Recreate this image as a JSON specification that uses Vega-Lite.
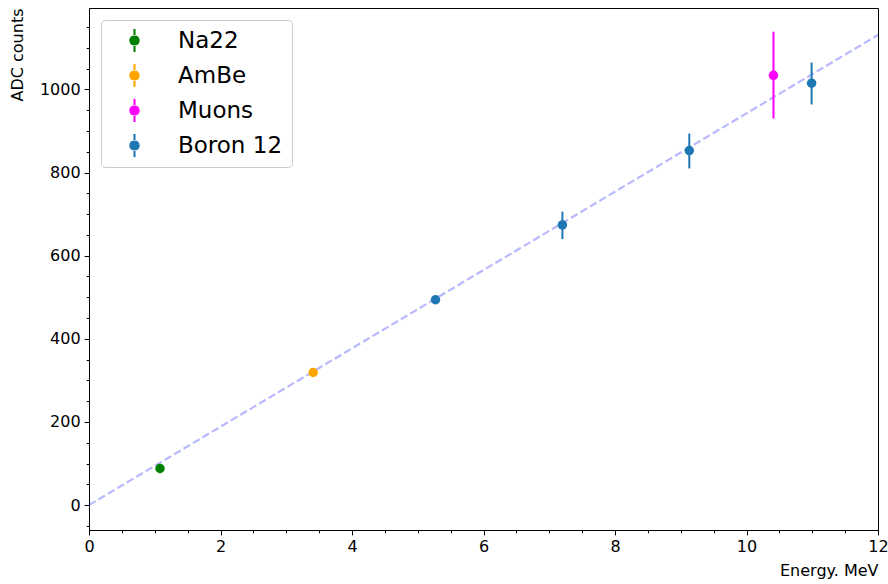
{
  "$schema": "https://vega.github.io/schema/vega-lite/v6.json",
  "width": 789,
  "height": 522,
  "autosize": "none",
  "padding": {"left": 89, "top": 8, "right": 10, "bottom": 54},
  "background": "white",
  "config": {
    "view": {"stroke": "black", "strokeWidth": 1},
    "font": "DejaVu Sans",
    "axis": {
      "grid": false,
      "domainColor": "black",
      "domainWidth": 1,
      "tickColor": "black",
      "tickWidth": 1,
      "labelColor": "black",
      "titleColor": "black",
      "labelFontSize": 16,
      "titleFontSize": 16,
      "titleFontWeight": "normal",
      "labelFont": "DejaVu Sans",
      "titleFont": "DejaVu Sans",
      "labelOverlap": false,
      "labelFlush": false
    },
    "legend": {
      "labelFont": "DejaVu Sans",
      "labelFontSize": 23,
      "labelColor": "black"
    }
  },
  "datasets": {
    "pts": [
      {"source": "Na22", "E": 1.08, "adc": 88, "lo": 84, "hi": 92},
      {"source": "AmBe", "E": 3.41, "adc": 319, "lo": 314, "hi": 324},
      {"source": "Boron 12", "E": 5.27, "adc": 494, "lo": 487, "hi": 501},
      {"source": "Boron 12", "E": 7.2, "adc": 674, "lo": 640, "hi": 706},
      {"source": "Boron 12", "E": 9.13, "adc": 853, "lo": 810, "hi": 894},
      {"source": "Muons", "E": 10.41, "adc": 1034, "lo": 930, "hi": 1139},
      {"source": "Boron 12", "E": 10.99, "adc": 1015, "lo": 964, "hi": 1065}
    ],
    "fit": [
      {"E": 0, "adc": 0},
      {"E": 12, "adc": 1131}
    ]
  },
  "encoding": {
    "x": {
      "field": "E",
      "type": "quantitative",
      "scale": {"domain": [0, 12], "nice": false, "zero": false},
      "axis": {
        "title": "Energy. MeV",
        "titleAnchor": "end",
        "titlePadding": 8,
        "values": [0, 0.5, 1, 1.5, 2, 2.5, 3, 3.5, 4, 4.5, 5, 5.5, 6, 6.5, 7, 7.5, 8, 8.5, 9, 9.5, 10, 10.5, 11, 11.5, 12],
        "labelExpr": "datum.value % 2 === 0 ? '' + datum.value : ''",
        "tickSize": {"condition": {"test": "datum.value % 2 !== 0", "value": 2.8}, "value": 4.9},
        "labelPadding": 4
      }
    },
    "y": {
      "field": "adc",
      "type": "quantitative",
      "scale": {"domain": [-60, 1196], "nice": false, "zero": false},
      "axis": {
        "title": "ADC counts",
        "titleAnchor": "end",
        "titlePadding": 14,
        "values": [-50, 0, 50, 100, 150, 200, 250, 300, 350, 400, 450, 500, 550, 600, 650, 700, 750, 800, 850, 900, 950, 1000, 1050, 1100, 1150],
        "labelExpr": "datum.value % 200 === 0 ? '' + datum.value : ''",
        "tickSize": {"condition": {"test": "datum.value % 200 !== 0", "value": 2.8}, "value": 4.9},
        "labelPadding": 4
      }
    }
  },
  "resolve": {"legend": {"color": "independent"}},
  "layer": [
    {
      "data": {"name": "fit"},
      "mark": {"type": "line", "color": "blue", "opacity": 0.28, "strokeWidth": 2.2, "strokeDash": [7.7, 3.3], "clip": true},
      "encoding": {}
    },
    {
      "data": {"name": "pts"},
      "mark": {"type": "rule", "strokeWidth": 2},
      "encoding": {
        "y": {"field": "lo", "type": "quantitative"},
        "y2": {"field": "hi"},
        "color": {
          "field": "source",
          "type": "nominal",
          "scale": {"domain": ["Na22", "AmBe", "Muons", "Boron 12"], "range": ["#008000", "#ffa500", "#ff00ff", "#1f77b4"]},
          "legend": null
        }
      }
    },
    {
      "data": {"name": "pts"},
      "mark": {"type": "point", "filled": true, "shape": "circle", "size": 90, "opacity": 1},
      "encoding": {
        "color": {
          "field": "source",
          "type": "nominal",
          "scale": {"domain": ["Na22", "AmBe", "Muons", "Boron 12"], "range": ["#008000", "#ffa500", "#ff00ff", "#1f77b4"]},
          "legend": {
            "title": null,
            "orient": "none",
            "legendX": 12,
            "legendY": 12,
            "padding": 9,
            "symbolType": "M-0.09,-1H0.09V-0.4H-0.09Z M-0.09,0.4H0.09V1H-0.09Z M-0.45,0A0.45,0.45,0,1,0,0.45,0A0.45,0.45,0,1,0,-0.45,0Z",
            "symbolSize": 529,
            "symbolOffset": 13,
            "symbolOpacity": 1,
            "symbolStrokeWidth": 0,
            "labelOffset": 32,
            "rowPadding": 11,
            "strokeColor": "#cccccc",
            "fillColor": "white",
            "cornerRadius": 4
          }
        }
      }
    }
  ]
}
